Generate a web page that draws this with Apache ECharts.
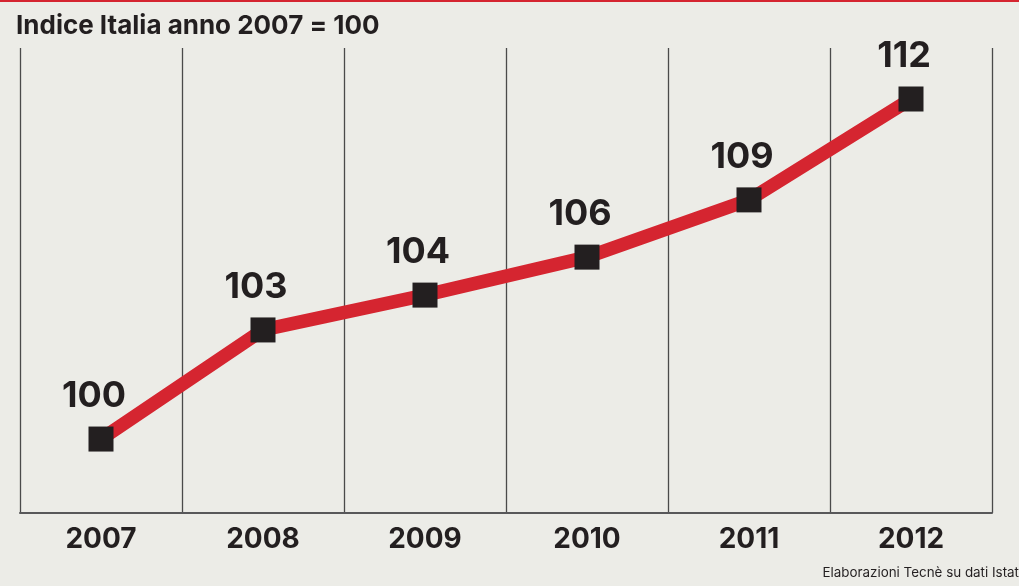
<!DOCTYPE html>
<html>
<head>
<meta charset="utf-8">
<script src="https://cdn.jsdelivr.net/npm/echarts@6/dist/echarts.min.js"></script>
<style>
html,body{margin:0;padding:0;background:#fff;}
#chart{width:1030px;height:586px;background:linear-gradient(to right,#ecece7 1019px,#ffffff 1019px);}
</style>
</head>
<body>
<div id="chart"></div>
<script>
// Data
const years = ["2007", "2008", "2009", "2010", "2011", "2012"];
// plotted index values (as drawn in the picture)
const indexValues = [100, 103.85, 105.08, 106.42, 108.44, 112];
// value labels printed on the chart
const indexLabels = ["100", "103", "104", "106", "109", "112"];
const titleText = "Indice Italia anno 2007 = 100";
const sourceText = "Elaborazioni Tecnè su dati Istat";

const FONT = "Inter, 'DejaVu Sans', sans-serif";
const chart = echarts.init(document.getElementById('chart'), null, {renderer: 'canvas'});
chart.setOption({
  backgroundColor: 'transparent',
  animation: false,
  title: {
    text: titleText,
    left: 11, top: 8,
    textStyle: {fontFamily: FONT, fontWeight: 'bold', fontSize: 26, color: '#231f20'}
  },
  graphic: [
    {type: 'rect', left: 0, top: 0, shape: {width: 1019, height: 2}, style: {fill: '#d52530'}},
    {type: 'text', right: 11, top: 566, style: {text: sourceText, fontFamily: FONT, fontSize: 13.4, fill: '#231f20'}}
  ],
  grid: {left: 20, right: 38, top: 48, bottom: 73},
  xAxis: {
    type: 'category',
    data: years,
    boundaryGap: true,
    axisTick: {show: false},
    axisLine: {show: true, lineStyle: {color: '#58585a', width: 2}},
    axisLabel: {margin: 13, fontFamily: FONT, fontWeight: 'bold', fontSize: 28, color: '#231f20'},
    splitLine: {show: true, lineStyle: {color: '#4a4a4a', width: 1.3}}
  },
  yAxis: {
    type: 'value', min: 97.39, max: 113.8, show: false, splitLine: {show: false}
  },
  series: [{
    type: 'line',
    data: indexValues,
    lineStyle: {color: '#d52530', width: 13.5},
    symbol: 'rect',
    symbolSize: 25,
    itemStyle: {color: '#231f20'},
    label: {
      show: true, position: 'top', distance: 12, offset: [-7, 0],
      fontFamily: FONT, fontWeight: 'bold', fontSize: 36, color: '#231f20',
      formatter: p => indexLabels[p.dataIndex]
    }
  }]
});
</script>
</body>
</html>
